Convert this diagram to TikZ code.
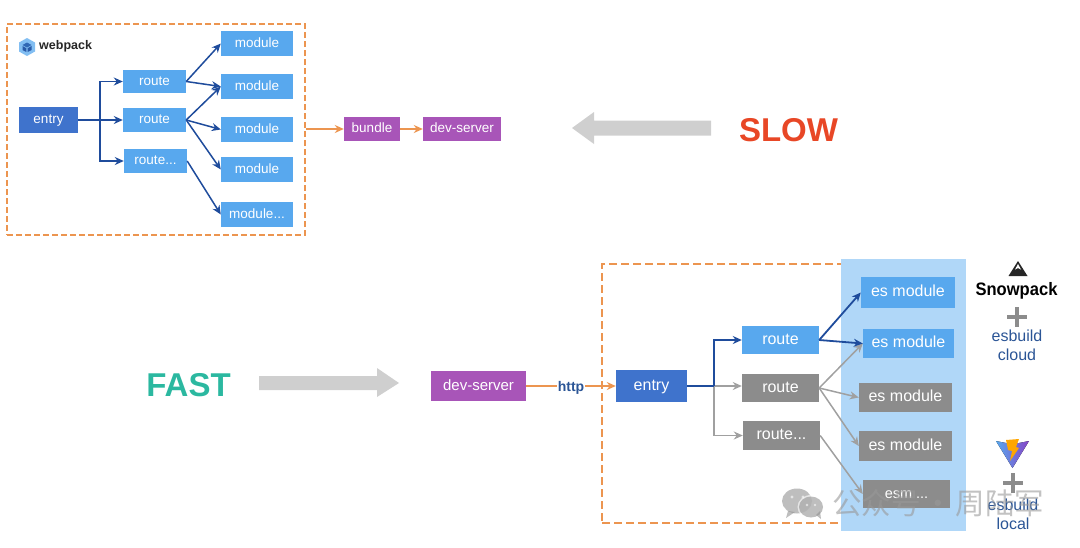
\documentclass[tikz,border=0pt]{standalone}
\usepackage{fontspec}
\setmainfont{Liberation Sans}
\newfontfamily\cjk{Noto Sans CJK SC}
\usetikzlibrary{arrows.meta}
\definecolor{lblue}{HTML}{58A8EE}
\definecolor{dblue}{HTML}{3F73CC}
\definecolor{navy}{HTML}{1F4C9C}
\definecolor{purp}{HTML}{A855B8}
\definecolor{gry}{HTML}{8C8C8C}
\definecolor{gline}{HTML}{A0A0A0}
\definecolor{orng}{HTML}{EC9550}
\definecolor{panel}{HTML}{B0D7F8}
\definecolor{bigarrow}{HTML}{CFCFCF}
\definecolor{txtblue}{HTML}{2B5596}
\tikzset{
 box/.style={inner sep=0pt,text=white,text height=9pt,text depth=2pt,font=\fontsize{13.5}{13.5}\selectfont},
 bigbox/.style={text height=10pt,text depth=2pt,font=\fontsize{16}{16}\selectfont},
 lb/.style={box,fill=lblue},
 db/.style={box,fill=dblue},
 pb/.style={box,fill=purp},
 gb/.style={box,fill=gry},
 nav/.style={draw=navy,line width=1.5pt,-{Stealth[length=9pt,width=8pt]}},
 gra/.style={draw=gline,line width=1.5pt,-{Stealth[length=9pt,width=8pt]}},
 ora/.style={draw=orng,line width=1.5pt,-{Stealth[length=9pt,width=8pt]}},
 dash box/.style={draw=orng,line width=1.4pt,inner sep=0pt},
 side/.style={text=txtblue,font=\fontsize{16}{16}\selectfont,inner sep=0pt},
 plusbar/.style={draw=gry,line width=4pt},
}
\begin{document}
\begin{tikzpicture}[x=1pt,y=-1pt]
\useasboundingbox (0,0) rectangle (1080,547);
% top diagram
\node[dash box,dash pattern=on 6pt off 3pt,minimum width=298pt,minimum height=211pt] (wpframe) at (156,129.5) {};
% webpack logo
\fill[lblue!75!white] (27,38)--(35,42.5)--(35,51.5)--(27,56)--(19,51.5)--(19,42.5)--cycle;
\fill[navy!70!lblue] (27,42.5)--(31.5,45)--(27,47.5)--(22.5,45)--cycle;
\fill[navy!85!lblue] (22.5,46)--(26.4,48.3)--(26.4,52)--(22.5,50)--cycle (27.6,48.3)--(31.5,46)--(31.5,50)--(27.6,52)--cycle;
\node[inner sep=0pt,anchor=west,font=\bfseries\fontsize{12.5}{12.5}\selectfont,text=black!85] (wplabel) at (39,46.5) {webpack};
\node[db,minimum width=59pt,minimum height=26pt] (entry) at (48.5,120) {entry};
\node[lb,minimum width=63pt,minimum height=23pt] (r1) at (154.5,81.5) {route};
\node[lb,minimum width=63pt,minimum height=24pt] (r2) at (154.5,120) {route};
\node[lb,minimum width=63pt,minimum height=24pt] (r3) at (155.5,161) {route...};
\node[lb,minimum width=72pt,minimum height=25pt] (m1) at (257,43.5) {module};
\node[lb,minimum width=72pt,minimum height=25pt] (m2) at (257,86.5) {module};
\node[lb,minimum width=72pt,minimum height=25pt] (m3) at (257,129.5) {module};
\node[lb,minimum width=72pt,minimum height=25pt] (m4) at (257,169.5) {module};
\node[lb,minimum width=72pt,minimum height=25pt] (m5) at (257,214.5) {module...};
\node[pb,minimum width=56pt,minimum height=24pt] (bundle) at (372,129) {bundle};
\node[pb,minimum width=78pt,minimum height=24pt] (dev1) at (462,129) {dev-server};
\coordinate (j1) at (100,120);
\draw[nav] (entry.east) -- (r2.west);
\draw[nav] (j1) |- (r1.west);
\draw[nav] (j1) |- (r3.west);
\draw[nav] (r1.east) -- (m1.west);
\draw[nav] (r1.east) -- (m2.west);
\draw[nav] (r2.east) -- (m2.west);
\draw[nav] (r2.east) -- (m3.west);
\draw[nav] (r2.east) -- (m4.west);
\draw[nav] (r3.east) -- (m5.west);
\draw[ora] (wpframe.east |- bundle.west) -- (bundle.west);
\draw[ora] (bundle.east) -- (dev1.west);
% slow
\coordinate (sa) at (711,128); \coordinate (sb) at (572,128);
\fill[bigarrow] (sa)++(0,-7.5) -- (594,120.5) -- (594,112) -- (sb) -- (594,144) -- (594,135.5) -- (711,135.5) -- cycle;
\node[inner sep=0pt,text={rgb,255:red,232;green,71;blue,38},font=\bfseries\fontsize{33}{33}\selectfont] (slow) at (788.5,130) {SLOW};
% fast
\node[inner sep=0pt,text={rgb,255:red,43;green,184;blue,160},font=\bfseries\fontsize{33}{33}\selectfont] (fast) at (188.5,385) {FAST};
\fill[bigarrow] (259,376) -- (377,376) -- (377,368) -- (399,383) -- (377,397) -- (377,390) -- (259,390) -- cycle;
% bottom diagram
\node[dash box,dash pattern=on 8pt off 4pt,minimum width=298pt,minimum height=259pt] (esframe) at (751,393.5) {};
\node[fill=panel,minimum width=125pt,minimum height=272pt,inner sep=0pt] (panelbox) at (903.5,395) {};
\node[pb,bigbox,font=\fontsize{15}{15}\selectfont,minimum width=95pt,minimum height=30pt] (dev2) at (478.5,386) {dev-server};
\node[db,bigbox,minimum width=71pt,minimum height=32pt] (entry2) at (651.5,386) {entry};
\node[lb,bigbox,minimum width=77pt,minimum height=28pt] (br1) at (780.5,340) {route};
\node[gb,bigbox,minimum width=77pt,minimum height=28pt] (br2) at (780.5,388) {route};
\node[gb,bigbox,minimum width=77pt,minimum height=29pt] (br3) at (781.5,435.5) {route...};
\node[lb,bigbox,minimum width=94pt,minimum height=31pt] (e1) at (908,292.5) {es module};
\node[lb,bigbox,minimum width=91pt,minimum height=29pt] (e2) at (908.5,343.5) {es module};
\node[gb,bigbox,minimum width=93pt,minimum height=29pt] (e3) at (905.5,397.5) {es module};
\node[gb,bigbox,minimum width=93pt,minimum height=30pt] (e4) at (905.5,446) {es module};
\node[gb,bigbox,font=\fontsize{14.5}{14.5}\selectfont,minimum width=87pt,minimum height=28pt] (e5) at (906.5,494) {esm ...};
\coordinate (j2) at (714,386);
\draw[gra] (entry2.east) -- (entry2.east -| br2.west);
\draw[gra] (j2) |- (br3.west);
\draw[gra] (br2.east) -- (e2.west);
\draw[gra] (br2.east) -- (e3.west);
\draw[gra] (br2.east) -- (e4.west);
\draw[gra] (br3.east) -- (e5.west);
\draw[navy,line width=1.8pt] (entry2.east) -- (j2);
\draw[nav,line width=1.8pt] (j2) |- (br1.west);
\draw[nav,line width=1.8pt] (br1.east) -- (e1.west);
\draw[nav,line width=1.8pt] (br1.east) -- (e2.west);
\draw[ora] (dev2.east) -- (entry2.west);
\node[fill=white,inner sep=1pt,text=txtblue,font=\bfseries\fontsize{14}{14}\selectfont] (http) at (571,388) {http};
% snowpack
\fill[black!85] (1018,261) -- (1027.5,276) -- (1008.5,276) -- cycle;
\fill[white] (1018,264) -- (1021,269.5) -- (1018,268) -- (1015,269.5) -- cycle;
\node[inner sep=0pt,text=black,xscale=.92,font=\bfseries\fontsize{18}{18}\selectfont] (snow) at (1016.5,291) {Snowpack};
\draw[plusbar] (1007,317) -- (1027,317) (1017,307) -- (1017,327);
\node[side] (esb1) at (1017,336) {esbuild};
\node[side] (cloud) at (1017,355) {cloud};
% vite
\fill[left color=lblue,right color=purp!80!blue] (996,441) -- (1006,443) -- (1019,443) -- (1029,441) -- (1012.5,468) -- cycle;
\fill[orange!70!yellow] (1006,440) -- (1019,439) -- (1016,447) -- (1019,448) -- (1010,461) -- (1012,451) -- (1008,450) -- cycle;
\draw[plusbar] (1003,483) -- (1023,483) (1013,473) -- (1013,493);
\node[side] (esb2) at (1013,505) {esbuild};
\node[side] (local) at (1013,524) {local};
% watermark
\begin{scope}[opacity=.6]
\fill[gray!85] (797,501) ellipse (15pt and 12.5pt);
\fill[gray!85] (788,511) -- (786,518) -- (795,512) -- cycle;
\fill[white] (811,507) ellipse (13.5pt and 12pt);
\fill[gray!85] (811,507) ellipse (12pt and 10.5pt);
\fill[gray!85] (816,515) -- (821,519) -- (820,511) -- cycle;
\fill[white] (792,497) circle (1.6pt) (803,497) circle (1.6pt) (807,505) circle (1.4pt) (815,505) circle (1.4pt);
\node[inner sep=0pt,anchor=west,text=gray!80,font=\cjk\fontsize{29.5}{29.5}\selectfont] (mark) at (832,503) {公众号\hspace{2.75pt}·\hspace{2.75pt}周陆军};
\end{scope}
\end{tikzpicture}
\end{document}
